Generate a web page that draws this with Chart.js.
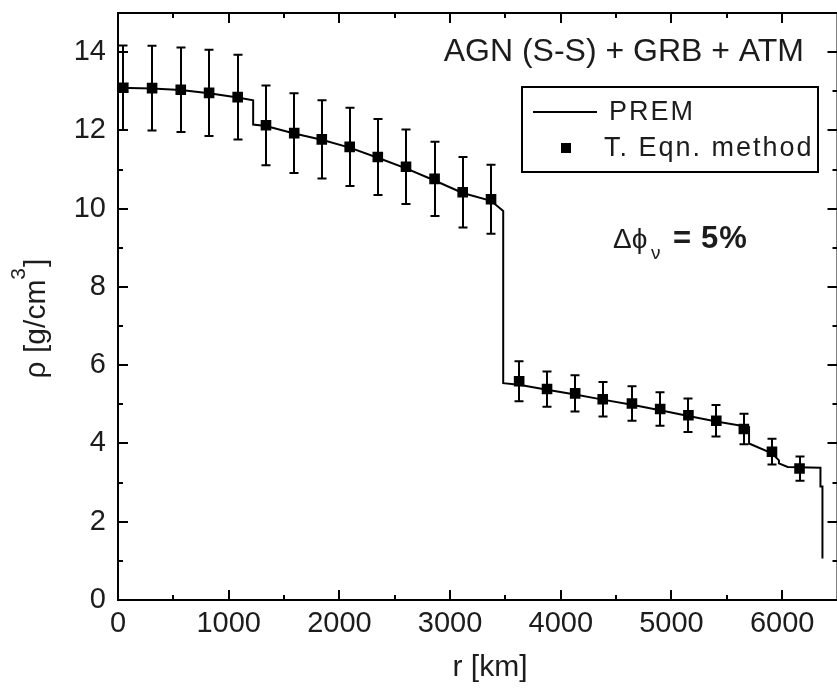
<!DOCTYPE html>
<html>
<head>
<meta charset="utf-8">
<script src="https://cdn.jsdelivr.net/npm/chart.js@4.4.1/dist/chart.umd.min.js"></script>
<style>
  html, body { margin: 0; padding: 0; background: #fff; overflow: hidden; }
  canvas { display: block; }
</style>
</head>
<body>
<canvas id="rhoChart" width="845" height="691"></canvas>
<script>
// Density profile: reconstructed points vs PREM
const FONT = "'Liberation Sans', Arial, sans-serif";
const INK = '#1c1c1c';

// T. Eqn. method points — r [km], rho [g/cm3], symmetric error
const radii  = [48, 308, 567, 823, 1081, 1337, 1592, 1841, 2093, 2347, 2602, 2860, 3114,
                3370, 3624, 3876, 4130, 4379, 4643, 4898, 5153, 5405, 5654, 5908, 6157];
const rho    = [13.09, 13.08, 13.04, 12.96, 12.85, 12.13, 11.93, 11.77, 11.58, 11.32, 11.07, 10.76, 10.42,
                10.24, 5.59, 5.39, 5.28, 5.13, 5.02, 4.88, 4.72, 4.58, 4.37, 3.79, 3.36];
const rhoErr = [1.08, 1.08, 1.08, 1.10, 1.08, 1.02, 1.02, 1.00, 1.00, 0.97, 0.95, 0.95, 0.90,
                0.88, 0.51, 0.45, 0.46, 0.44, 0.44, 0.43, 0.43, 0.40, 0.39, 0.33, 0.31];

// PREM curve vertices
const premR   = [0, 308, 567, 823, 1081, 1221, 1221, 1337, 1592, 1841, 2093, 2347, 2602, 2860, 3114,
                 3370, 3480, 3480, 3624, 3876, 4130, 4379, 4643, 4898, 5153, 5405, 5701, 5701, 5908,
                 5971, 5971, 6050, 6346, 6346, 6364, 6364];
const premRho = [13.09, 13.07, 13.03, 12.95, 12.84, 12.77, 12.15, 12.11, 11.92, 11.76, 11.56, 11.30, 11.03,
                 10.72, 10.40, 10.20, 9.94, 5.54, 5.50, 5.37, 5.25, 5.12, 4.99, 4.85, 4.70, 4.56, 4.42,
                 4.00, 3.75, 3.57, 3.49, 3.40, 3.38, 2.90, 2.90, 1.06];

const xTicks = [0, 1000, 2000, 3000, 4000, 5000, 6000];
const yTicks = [0, 2, 4, 6, 8, 10, 12, 14];

// ── error bars under the markers ────────────────────────────────────────────
const errorBars = {
  id: 'errorBars',
  beforeDatasetsDraw(chart) {
    const { ctx, scales: { x, y } } = chart;
    ctx.save();
    ctx.strokeStyle = '#000';
    ctx.lineWidth = 2;
    radii.forEach((r, i) => {
      const px = Math.round(x.getPixelForValue(r));
      const top = y.getPixelForValue(rho[i] + rhoErr[i]);
      const bot = y.getPixelForValue(rho[i] - rhoErr[i]);
      ctx.beginPath();
      ctx.moveTo(px, top); ctx.lineTo(px, bot);
      ctx.moveTo(px - 4.5, top); ctx.lineTo(px + 4.5, top);
      ctx.moveTo(px - 4.5, bot); ctx.lineTo(px + 4.5, bot);
      ctx.stroke();
    });
    ctx.restore();
  }
};

// ── frame with inward ticks on all four sides ───────────────────────────────
const frame = {
  id: 'frame',
  afterDraw(chart) {
    const { ctx, chartArea: a, scales: { x, y } } = chart;
    ctx.save();
    ctx.strokeStyle = '#000';
    ctx.lineWidth = 2;
    ctx.strokeRect(a.left, a.top, a.right - a.left, a.bottom - a.top);
    ctx.beginPath();
    for (let v = x.min; v <= x.max; v += 500) {
      const px = Math.round(x.getPixelForValue(v));
      const len = v % 1000 === 0 ? 10 : 5;
      ctx.moveTo(px, a.bottom); ctx.lineTo(px, a.bottom - len);
      ctx.moveTo(px, a.top); ctx.lineTo(px, a.top + len);
    }
    for (let v = y.min; v <= y.max; v += 1) {
      const py = Math.round(y.getPixelForValue(v));
      const len = v % 2 === 0 ? 10 : 5;
      ctx.moveTo(a.left, py); ctx.lineTo(a.left + len, py);
      ctx.moveTo(a.right, py); ctx.lineTo(a.right - len, py);
    }
    ctx.stroke();
    ctx.restore();
  }
};

// ── titles, legend box and annotation ───────────────────────────────────────
const labels = {
  id: 'labels',
  afterDraw(chart) {
    const { ctx } = chart;
    const ds = chart.data.datasets;
    ctx.save();
    ctx.fillStyle = INK;

    // x axis title
    ctx.font = `30px ${FONT}`;
    ctx.textAlign = 'center';
    ctx.textBaseline = 'middle';
    ctx.fillText('r [km]', 490, 668);

    // y axis title with superscript
    ctx.save();
    ctx.translate(45, 319);
    ctx.rotate(-Math.PI / 2);
    ctx.textAlign = 'left';
    ctx.textBaseline = 'alphabetic';
    const main = 'ρ [g/cm', sup = '3', end = ']';
    ctx.font = `30px ${FONT}`;
    const w1 = ctx.measureText(main).width, w3 = ctx.measureText(end).width;
    ctx.font = `21px ${FONT}`;
    const w2 = ctx.measureText(sup).width;
    let sx = -(w1 + w2 + w3) / 2;
    ctx.font = `30px ${FONT}`;
    ctx.fillText(main, sx, 0);
    ctx.font = `21px ${FONT}`;
    ctx.fillText(sup, sx + w1, -20);
    ctx.font = `30px ${FONT}`;
    ctx.fillText(end, sx + w1 + w2 + 1, 0);
    ctx.restore();

    // top-right heading
    ctx.font = `32px ${FONT}`;
    ctx.textAlign = 'right';
    ctx.textBaseline = 'middle';
    ctx.fillText('AGN (S-S) + GRB + ATM', 804, 52);

    // legend
    ctx.strokeStyle = '#000';
    ctx.lineWidth = 2;
    ctx.strokeRect(522, 87, 296, 85);
    ctx.beginPath();
    ctx.moveTo(533, 112); ctx.lineTo(597, 112);
    ctx.stroke();
    ctx.fillStyle = '#000';
    ctx.fillRect(561, 143, 10, 10);
    ctx.fillStyle = INK;
    ctx.font = `27px ${FONT}`;
    ctx.textAlign = 'left';
    ctx.letterSpacing = '2px';
    ctx.fillText(ds[0].label, 609, 113);
    ctx.fillText(ds[1].label, 604, 149);

    // delta phi annotation
    ctx.letterSpacing = '0px';
    ctx.textBaseline = 'alphabetic';
    ctx.font = `28px ${FONT}`;
    ctx.fillText('Δϕ', 613, 248);
    ctx.font = `19px ${FONT}`;
    ctx.fillText('ν', 651, 259);
    ctx.font = `bold 31px ${FONT}`;
    ctx.letterSpacing = '1px';
    ctx.fillText('=', 673, 248);
    ctx.fillText('5%', 701, 248);
    ctx.restore();
  }
};

new Chart(document.getElementById('rhoChart'), {
  type: 'scatter',
  data: {
    datasets: [
      {
        label: 'PREM',
        data: premR.map((r, i) => ({ x: r, y: premRho[i] })),
        showLine: true,
        borderColor: '#000',
        borderWidth: 2,
        pointRadius: 0,
        tension: 0,
        order: 2
      },
      {
        label: 'T. Eqn. method',
        data: radii.map((r, i) => ({ x: r, y: rho[i] })),
        pointStyle: 'rect',
        pointRadius: 7.5,
        backgroundColor: '#000',
        borderColor: '#000',
        borderWidth: 0,
        order: 1
      }
    ]
  },
  options: {
    responsive: false,
    animation: false,
    devicePixelRatio: 1,
    layout: { padding: { top: 13, right: 4, left: 0, bottom: 0 } },
    plugins: { legend: { display: false }, tooltip: { enabled: false } },
    scales: {
      x: {
        type: 'linear',
        min: 0,
        max: 6500,
        grid: { display: false, drawTicks: false },
        border: { display: false },
        afterBuildTicks: s => { s.ticks = xTicks.map(v => ({ value: v })); },
        afterFit: s => { s.height = 91; s.paddingLeft = 0; s.paddingRight = 0; },
        ticks: {
          autoSkip: false,
          maxRotation: 0,
          padding: 7,
          color: INK,
          font: { family: FONT, size: 29 },
          callback: v => String(v)
        }
      },
      y: {
        min: 0,
        max: 15,
        grid: { display: false, drawTicks: false },
        border: { display: false },
        afterBuildTicks: s => { s.ticks = yTicks.map(v => ({ value: v })); },
        afterFit: s => { s.width = 118; s.paddingTop = 0; s.paddingBottom = 0; },
        ticks: {
          padding: 12,
          color: INK,
          font: { family: FONT, size: 29 },
          callback: v => String(v)
        }
      }
    }
  },
  plugins: [errorBars, frame, labels]
});
</script>
</body>
</html>
